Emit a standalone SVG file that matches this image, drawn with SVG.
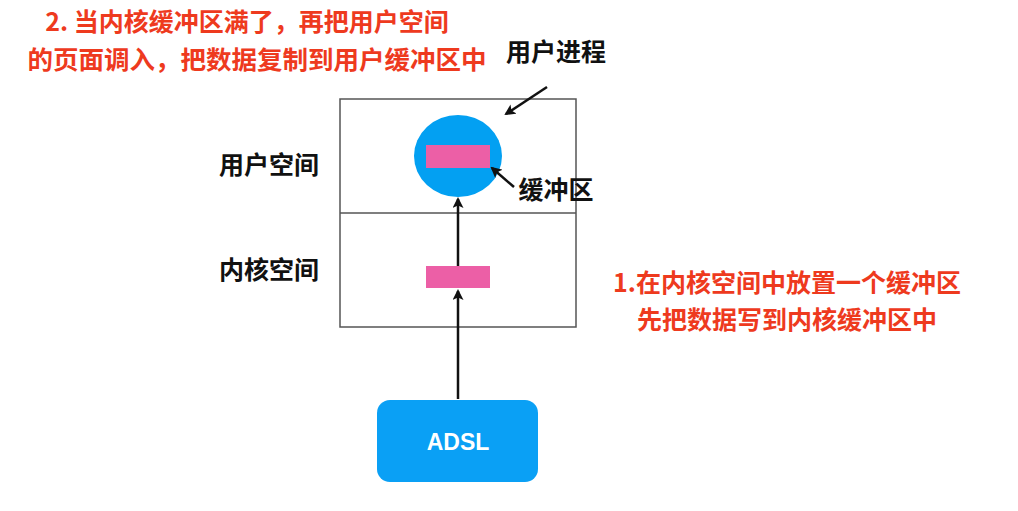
<svg xmlns="http://www.w3.org/2000/svg" width="1018" height="511" viewBox="0 0 1018 511">
<style>
text{font-family:"Noto Sans CJK SC","Liberation Sans",sans-serif;font-weight:bold;}
.red{fill:#ee3a1e;font-size:25px;}
.blk{fill:#111;font-size:25px;}
.pink{fill:#ec5fa6;}
.ln{stroke:#111;stroke-width:2.5;fill:none;}
</style>
<defs>
<marker id="ah" markerWidth="11" markerHeight="11" refX="9" refY="5.5" orient="auto" markerUnits="userSpaceOnUse">
<path d="M0,0 L11,5.5 L0,11 L2.5,5.5 Z" fill="#111"/>
</marker>
</defs>
<rect width="1018" height="511" fill="#fff"/>
<g id="notes">
<text class="red" x="247" y="31" text-anchor="middle">2. 当内核缓冲区满了，再把用户空间</text>
<text class="red" x="257" y="69" text-anchor="middle" style="font-size:25.5px">的页面调入，把数据复制到用户缓冲区中</text>
<text class="red" x="787" y="292" text-anchor="middle">1.在内核空间中放置一个缓冲区</text>
<text class="red" x="787" y="329" text-anchor="middle">先把数据写到内核缓冲区中</text>
</g>
<g id="process">
<rect x="340" y="99" width="236" height="228" fill="none" stroke="#555" stroke-width="1.5"/>
<line x1="340" y1="213" x2="576" y2="213" stroke="#555" stroke-width="1.5"/>
<text class="blk" x="269" y="174" text-anchor="middle">用户空间</text>
<text class="blk" x="269" y="279" text-anchor="middle">内核空间</text>
<text class="blk" x="556" y="61" text-anchor="middle">用户进程</text>
</g>
<g id="user-buffer">
<ellipse cx="458" cy="156" rx="44" ry="41" fill="#03a0f2"/>
<rect class="pink" x="426" y="145" width="64" height="23"/>
<text class="blk" x="556" y="199" text-anchor="middle">缓冲区</text>
</g>
<g id="kernel-buffer">
<rect class="pink" x="426" y="266" width="64" height="22"/>
</g>
<g id="adsl">
<rect x="377" y="400" width="161" height="82" rx="13" fill="#0aa0f5"/>
<text x="458" y="450" text-anchor="middle" fill="#fff" style="font-family:'Liberation Sans',sans-serif;font-size:23px;">ADSL</text>
</g>
<g id="connectors">
<line class="ln" x1="458" y1="399" x2="458" y2="291" marker-end="url(#ah)"/>
<line class="ln" x1="458" y1="266" x2="458" y2="199" marker-end="url(#ah)"/>
<line class="ln" x1="547" y1="87" x2="506" y2="114" marker-end="url(#ah)"/>
<line class="ln" x1="514" y1="187" x2="492" y2="168" marker-end="url(#ah)"/>
</g>
</svg>
